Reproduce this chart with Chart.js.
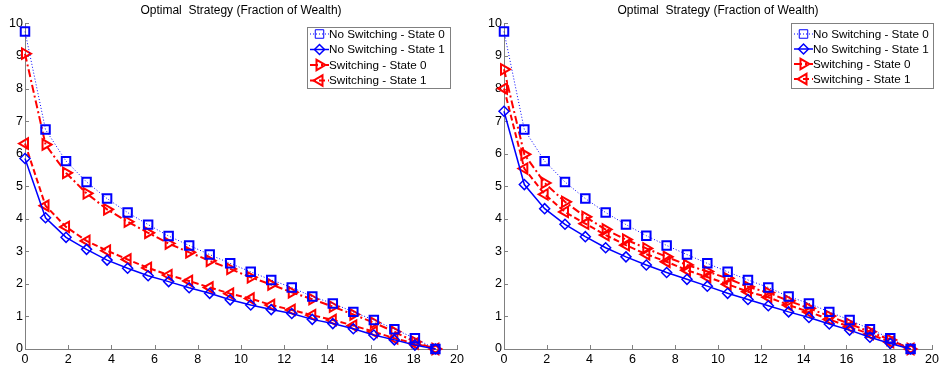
<!DOCTYPE html>
<html>
<head>
<meta charset="utf-8">
<script src="https://cdn.jsdelivr.net/npm/chart.js@4.4.0/dist/chart.umd.min.js"></script>
<style>
html, body { margin: 0; padding: 0; background: #fff; }
#wrap { position: relative; width: 940px; height: 370px; }
.panel { position: absolute; top: 0; width: 470px; height: 370px; }
</style>
</head>
<body>
<div id="wrap">
    <div class="panel" style="left:0"><canvas id="leftChart" width="470" height="370"></canvas></div>
    <div class="panel" style="left:470px"><canvas id="rightChart" width="470" height="370"></canvas></div>
</div>
<script>
// time grid (21 steps)
const timeSteps = [0, 0.95, 1.9, 2.85, 3.8, 4.75, 5.7, 6.65, 7.6, 8.55, 9.5,
                   10.45, 11.4, 12.35, 13.3, 14.25, 15.2, 16.15, 17.1, 18.05, 19];

const seriesLabels = ['No Switching - State 0', 'No Switching - State 1', 'Switching - State 0', 'Switching - State 1'];
const titleText = 'Optimal  Strategy (Fraction of Wealth)';
const xTicks = [0, 2, 4, 6, 8, 10, 12, 14, 16, 18, 20];
const yTicks = [0, 1, 2, 3, 4, 5, 6, 7, 8, 9, 10];

// left panel
const leftNoSwitch0 = [9.75, 6.74, 5.77, 5.13, 4.62, 4.19, 3.82, 3.47, 3.18, 2.90, 2.63,
                       2.37, 2.12, 1.89, 1.61, 1.40, 1.14, 0.89, 0.61, 0.33, 0];
const leftNoSwitch1 = [5.85, 4.03, 3.43, 3.06, 2.73, 2.48, 2.25, 2.07, 1.88, 1.71, 1.51,
                       1.35, 1.21, 1.09, 0.91, 0.78, 0.62, 0.43, 0.28, 0.12, 0];
const leftSwitch0   = [9.07, 6.28, 5.41, 4.78, 4.29, 3.91, 3.57, 3.24, 2.97, 2.71, 2.46,
                       2.20, 1.98, 1.74, 1.53, 1.30, 1.06, 0.81, 0.53, 0.22, 0];
const leftSwitch1   = [6.31, 4.40, 3.75, 3.32, 3.02, 2.75, 2.49, 2.27, 2.09, 1.89, 1.70,
                       1.55, 1.35, 1.20, 1.04, 0.89, 0.72, 0.53, 0.33, 0.17, 0];

// right panel
const rightNoSwitch0 = [9.75, 6.74, 5.77, 5.13, 4.62, 4.19, 3.82, 3.48, 3.18, 2.90, 2.63,
                        2.37, 2.12, 1.89, 1.61, 1.40, 1.14, 0.89, 0.61, 0.33, 0];
const rightNoSwitch1 = [7.30, 5.05, 4.31, 3.83, 3.45, 3.11, 2.83, 2.58, 2.35, 2.14, 1.93,
                        1.71, 1.52, 1.33, 1.14, 0.97, 0.77, 0.58, 0.36, 0.17, 0];
const rightSwitch0   = [8.59, 5.98, 5.10, 4.52, 4.06, 3.67, 3.36, 3.09, 2.83, 2.58, 2.38,
                        2.17, 1.91, 1.73, 1.48, 1.25, 1.01, 0.77, 0.53, 0.28, 0];
const rightSwitch1   = [8.00, 5.54, 4.75, 4.21, 3.85, 3.50, 3.19, 2.91, 2.68, 2.42, 2.21,
                        1.99, 1.76, 1.59, 1.35, 1.14, 0.91, 0.68, 0.46, 0.21, 0];

Chart.defaults.font.family = '"Liberation Sans", Arial, sans-serif';
Chart.defaults.font.size = 12;
Chart.defaults.color = '#000';

const AXIS_GRAY = '#808080';

function toPoints(vals) { return timeSteps.map((x, i) => ({ x: x, y: vals[i] })); }

function makeDatasets(s0, s1, w0, w1) {
    const common = { showLine: true, fill: false, clip: false, pointBackgroundColor: 'rgba(0,0,0,0)', tension: 0 };
    return [
        { ...common, label: seriesLabels[0], data: toPoints(s0),
          borderColor: '#0000FF', pointBorderColor: '#0000FF', borderWidth: 1, borderDash: [1, 2],
          pointStyle: 'rect', pointRadius: 6, pointBorderWidth: 2, pointRotation: 0 },
        { ...common, label: seriesLabels[1], data: toPoints(s1),
          borderColor: '#0000FF', pointBorderColor: '#0000FF', borderWidth: 1.5, borderDash: [],
          pointStyle: 'rectRot', pointRadius: 5, pointBorderWidth: 1.5, pointRotation: 0 },
        { ...common, label: seriesLabels[2], data: toPoints(w0),
          borderColor: '#FF0000', pointBorderColor: '#FF0000', borderWidth: 2, borderDash: [8, 3, 2, 3],
          pointStyle: 'triangle', pointRadius: 6, pointBorderWidth: 2, pointRotation: 90 },
        { ...common, label: seriesLabels[3], data: toPoints(w1),
          borderColor: '#FF0000', pointBorderColor: '#FF0000', borderWidth: 2, borderDash: [6, 3],
          pointStyle: 'triangle', pointRadius: 6, pointBorderWidth: 2, pointRotation: 270 },
    ];
}

// MATLAB style inward tick marks
const innerTicks = {
    id: 'innerTicks',
    beforeDatasetsDraw(chart) {
        const { ctx, chartArea: a, scales } = chart;
        ctx.save();
        ctx.strokeStyle = AXIS_GRAY;
        ctx.lineWidth = 1;
        scales.x.ticks.forEach(t => {
            const px = Math.round(scales.x.getPixelForValue(t.value)) + 0.5;
            ctx.beginPath(); ctx.moveTo(px, a.bottom); ctx.lineTo(px, a.bottom - 4); ctx.stroke();
        });
        scales.y.ticks.forEach(t => {
            const py = Math.round(scales.y.getPixelForValue(t.value)) + 0.5;
            ctx.beginPath(); ctx.moveTo(a.left, py); ctx.lineTo(a.left + 4, py); ctx.stroke();
        });
        ctx.restore();
    }
};

// legend box with line + marker samples
const boxLegend = {
    id: 'boxLegend',
    afterDraw(chart, args, opts) {
        const ctx = chart.ctx;
        ctx.save();
        ctx.fillStyle = '#fff';
        ctx.fillRect(opts.x, opts.y, opts.w, opts.h);
        ctx.strokeStyle = AXIS_GRAY;
        ctx.lineWidth = 1;
        ctx.strokeRect(opts.x + 0.5, opts.y + 0.5, opts.w, opts.h);
        chart.data.datasets.forEach((ds, i) => {
            const cy = opts.y + opts.first + i * opts.gap;
            ctx.strokeStyle = ds.borderColor;
            ctx.lineWidth = ds.borderWidth;
            ctx.setLineDash(ds.borderDash);
            ctx.beginPath(); ctx.moveTo(opts.x + 3, cy); ctx.lineTo(opts.x + 22, cy); ctx.stroke();
            ctx.setLineDash([]);
            ctx.fillStyle = 'rgba(0,0,0,0)';
            Chart.helpers.drawPoint(ctx, {
                pointStyle: ds.pointStyle, rotation: ds.pointRotation,
                radius: ds.pointRadius, borderWidth: ds.pointBorderWidth
            }, opts.x + 12.5, cy);
            ctx.fillStyle = '#000';
            ctx.font = '11.7px "Liberation Sans", Arial, sans-serif';
            ctx.textBaseline = 'middle';
            ctx.textAlign = 'left';
            ctx.fillText(ds.label, opts.x + 22, cy + 0.5);
        });
        ctx.restore();
    }
};

function makeChart(id, datasets, yWidth, padRight, legendOpts) {
    return new Chart(document.getElementById(id).getContext('2d'), {
        type: 'scatter',
        data: { datasets: datasets },
        options: {
            responsive: false, animation: false, devicePixelRatio: 1, events: [],
            layout: { padding: { left: 0, right: padRight, top: 0, bottom: 0 } },
            plugins: {
                legend: { display: false },
                tooltip: { enabled: false },
                title: {
                    display: true, text: titleText, fullSize: false, color: '#000',
                    font: { size: 12, weight: 'normal' }, padding: { top: 3, bottom: 6 }
                },
                boxLegend: legendOpts,
            },
            scales: {
                x: {
                    type: 'linear', min: 0, max: 20,
                    grid: { drawOnChartArea: false, drawTicks: false },
                    border: { display: true, color: AXIS_GRAY, width: 1 },
                    afterBuildTicks: s => { s.ticks = xTicks.map(v => ({ value: v })); },
                    ticks: { color: '#000', padding: 3, maxRotation: 0, autoSkip: false, font: { size: 12.5 } },
                    afterFit: s => { s.height = 21; s.paddingLeft = 0; s.paddingRight = 0; }
                },
                y: {
                    type: 'linear', min: 0, max: 10,
                    grid: { drawOnChartArea: false, drawTicks: false },
                    border: { display: true, color: AXIS_GRAY, width: 1 },
                    afterBuildTicks: s => { s.ticks = yTicks.map(v => ({ value: v })); },
                    ticks: { color: '#000', padding: 2, autoSkip: false, font: { size: 12.5 } },
                    afterFit: s => { s.width = yWidth; s.paddingTop = 0; s.paddingBottom = 0; }
                }
            }
        },
        plugins: [innerTicks, boxLegend]
    });
}

makeChart('leftChart', makeDatasets(leftNoSwitch0, leftNoSwitch1, leftSwitch0, leftSwitch1),
          25, 13, { x: 307, y: 27, w: 143, h: 61, first: 7, gap: 15.5 });
makeChart('rightChart', makeDatasets(rightNoSwitch0, rightNoSwitch1, rightSwitch0, rightSwitch1),
          34, 5, { x: 321, y: 23, w: 142, h: 65, first: 11, gap: 15 });
</script>
</body>
</html>
